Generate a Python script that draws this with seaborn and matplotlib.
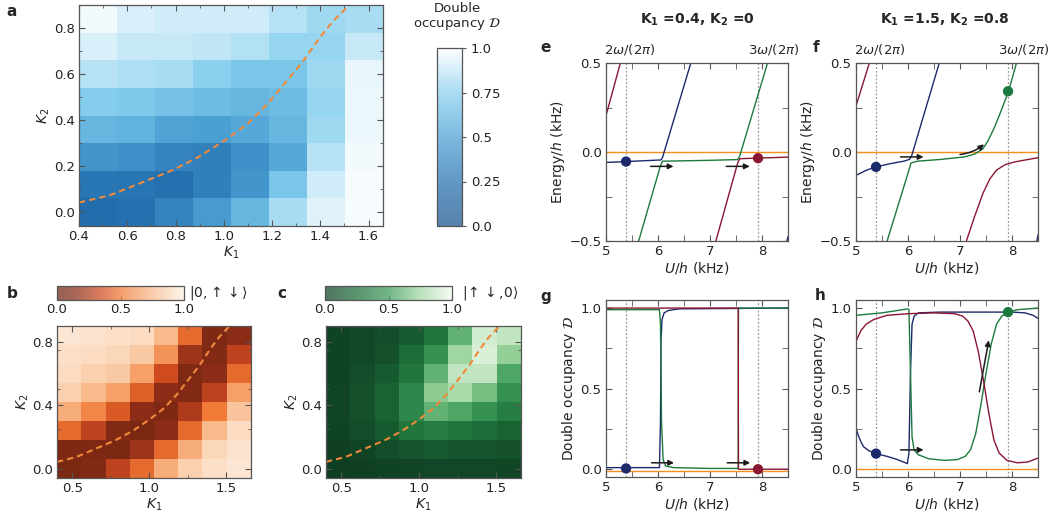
import numpy as np
import pandas as pd
import matplotlib
matplotlib.use("Agg")
import matplotlib.pyplot as plt
from matplotlib.colors import LinearSegmentedColormap
from matplotlib.ticker import MultipleLocator, FixedLocator
import seaborn as sns

sns.set_style("ticks")
plt.rcParams.update({
    "font.family": ["DejaVu Sans"], "font.size": 9,
    "mathtext.fontset": "dejavusans",
    "axes.edgecolor": "#555555", "axes.linewidth": 0.9,
    "xtick.color": "#555555", "ytick.color": "#555555",
    "xtick.labelcolor": "#222222", "ytick.labelcolor": "#222222",
    "xtick.labelsize": 9.5, "ytick.labelsize": 9.5,
    "axes.labelsize": 10, "axes.labelcolor": "#222222",
})

# ---------------------------------------------------------------- data
k2_rows = [0.84, 0.72, 0.60, 0.48, 0.36, 0.24, 0.12, 0.00]
k1_cols = [0.48, 0.64, 0.79, 0.95, 1.11, 1.26, 1.42, 1.58]
K1_LIM = (0.4, 1.66)
K2_LIM = (-0.06, 0.9)

dbl_occ = [
    [0.97, 0.92, 0.90, 0.90, 0.90, 0.85, 0.80, 0.82],
    [0.92, 0.88, 0.88, 0.87, 0.84, 0.78, 0.78, 0.88],
    [0.85, 0.83, 0.82, 0.76, 0.70, 0.70, 0.80, 0.95],
    [0.74, 0.72, 0.68, 0.65, 0.62, 0.65, 0.78, 0.96],
    [0.62, 0.60, 0.52, 0.50, 0.55, 0.62, 0.80, 0.96],
    [0.45, 0.42, 0.35, 0.33, 0.42, 0.55, 0.85, 0.97],
    [0.28, 0.27, 0.25, 0.33, 0.45, 0.70, 0.90, 0.98],
    [0.22, 0.25, 0.35, 0.48, 0.62, 0.82, 0.93, 0.98],
]
pop_0_ud = [
    [0.95, 0.93, 0.92, 0.90, 0.75, 0.45, 0.10, 0.15],
    [0.92, 0.90, 0.88, 0.82, 0.60, 0.20, 0.12, 0.30],
    [0.90, 0.85, 0.82, 0.65, 0.35, 0.10, 0.15, 0.45],
    [0.85, 0.75, 0.65, 0.42, 0.15, 0.12, 0.30, 0.65],
    [0.70, 0.55, 0.40, 0.15, 0.10, 0.25, 0.50, 0.80],
    [0.45, 0.30, 0.12, 0.08, 0.15, 0.45, 0.75, 0.90],
    [0.10, 0.10, 0.08, 0.20, 0.45, 0.70, 0.88, 0.93],
    [0.08, 0.12, 0.30, 0.45, 0.70, 0.85, 0.92, 0.95],
]
pop_ud_0 = [
    [0.02, 0.05, 0.08, 0.15, 0.30, 0.60, 0.90, 0.85],
    [0.02, 0.05, 0.10, 0.25, 0.45, 0.75, 0.92, 0.72],
    [0.02, 0.08, 0.15, 0.30, 0.60, 0.85, 0.85, 0.55],
    [0.03, 0.10, 0.20, 0.40, 0.70, 0.78, 0.65, 0.45],
    [0.03, 0.10, 0.20, 0.40, 0.60, 0.55, 0.45, 0.35],
    [0.02, 0.08, 0.15, 0.30, 0.35, 0.30, 0.25, 0.20],
    [0.01, 0.03, 0.08, 0.12, 0.15, 0.12, 0.12, 0.10],
    [0.00, 0.01, 0.02, 0.03, 0.05, 0.05, 0.05, 0.04],
]
# dashed boundary curve
bnd_k1 = [0.40, 0.527, 0.649, 0.785, 0.894, 1.003, 1.098, 1.18, 1.261, 1.329, 1.397, 1.452, 1.515]
bnd_k2 = [0.042, 0.073, 0.124, 0.181, 0.239, 0.311, 0.383, 0.469, 0.570, 0.656, 0.757, 0.829, 0.894]

U_2W, U_3W = 5.39, 7.92

# panel e: quasi-energies, K1=0.4, K2=0
e_orange_u, e_orange_E = [5.0, 8.5], [0.0, 0.0]
e_red1_u, e_red1_E = [5.0, 5.28], [0.20, 0.50]
e_blue_u = [5.0, 5.39, 6.06, 6.09, 6.63]
e_blue_E = [-0.057, -0.052, -0.043, -0.028, 0.50]
e_blue2_u, e_blue2_E = [8.47, 8.5], [-0.50, -0.47]
e_green_u = [5.63, 6.05, 6.09, 7.0, 7.53, 7.57, 8.10]
e_green_E = [-0.50, -0.075, -0.050, -0.045, -0.041, -0.020, 0.50]
e_red2_u = [7.11, 7.53, 7.57, 8.5]
e_red2_E = [-0.50, -0.060, -0.036, -0.027]

# panel f: quasi-energies, K1=1.5, K2=0.8
f_red1_u, f_red1_E = [5.0, 5.26], [0.255, 0.50]
f_blue_u = [5.0, 5.21, 5.39, 5.66, 5.92, 6.03, 6.07, 6.6]
f_blue_E = [-0.13, -0.10, -0.082, -0.064, -0.05, -0.04, -0.022, 0.50]
f_blue2_u, f_blue2_E = [8.47, 8.5], [-0.50, -0.46]
f_green_u = [5.6, 6.0, 6.06, 6.18, 6.63, 7.08, 7.28, 7.44, 7.54, 7.66, 7.79, 7.93, 8.08]
f_green_E = [-0.50, -0.12, -0.06, -0.05, -0.04, -0.026, -0.01, 0.02, 0.067, 0.14, 0.235, 0.343, 0.50]
f_red2_u = [7.12, 7.28, 7.44, 7.57, 7.70, 7.86, 8.05, 8.31, 8.5]
f_red2_E = [-0.50, -0.36, -0.23, -0.15, -0.10, -0.07, -0.054, -0.04, -0.03]

# panel g: double occupancy, K1=0.4, K2=0
g_orange_u, g_orange_D = [5.0, 8.5], [-0.01, -0.01]
g_blue_u = [5.0, 6.03, 6.05, 6.06, 6.08, 6.12, 6.2, 6.4, 8.5]
g_blue_D = [0.01, 0.01, 0.3, 0.8, 0.93, 0.97, 0.985, 0.995, 1.0]
g_green_u = [5.0, 6.03, 6.05, 6.07, 6.1, 6.15, 6.3, 7.0, 7.54, 7.545, 8.5]
g_green_D = [0.99, 0.99, 0.9, 0.3, 0.06, 0.02, 0.01, 0.005, 0.005, 1.0, 1.0]
g_red_u = [5.0, 7.54, 7.545, 8.5]
g_red_D = [1.0, 1.0, 0.0, 0.0]

# panel h: double occupancy, K1=1.5, K2=0.8
h_orange_u, h_orange_D = [5.0, 8.5], [0.0, 0.0]
h_blue_u = [5.0, 5.05, 5.1, 5.15, 5.25, 5.39, 5.6, 5.8, 5.99, 6.02, 6.05, 6.08, 6.12, 6.2,
            6.6, 7.5, 8.0, 8.25, 8.4, 8.5]
h_blue_D = [0.26, 0.21, 0.17, 0.14, 0.115, 0.097, 0.08, 0.06, 0.035, 0.1, 0.6, 0.9, 0.95, 0.97,
            0.975, 0.975, 0.975, 0.97, 0.955, 0.935]
h_green_u = [5.0, 5.5, 6.0, 6.02, 6.05, 6.08, 6.12, 6.2, 6.4, 6.7, 6.95, 7.1, 7.2, 7.3, 7.4,
             7.5, 7.6, 7.7, 7.8, 7.92, 8.1, 8.5]
h_green_D = [0.955, 0.97, 0.995, 0.99, 0.6, 0.2, 0.12, 0.09, 0.065, 0.055, 0.06, 0.08, 0.12,
             0.22, 0.4, 0.6, 0.78, 0.9, 0.95, 0.975, 0.99, 1.0]
h_red_u = [5.0, 5.1, 5.2, 5.35, 5.6, 6.0, 6.5, 6.9, 7.05, 7.15, 7.25, 7.35, 7.45, 7.55, 7.65,
           7.75, 7.9, 8.1, 8.3, 8.5]
h_red_D = [0.79, 0.86, 0.9, 0.93, 0.955, 0.965, 0.97, 0.965, 0.95, 0.92, 0.86, 0.73, 0.55,
           0.35, 0.18, 0.1, 0.055, 0.04, 0.045, 0.07]

NAVY, CRIMSON, GREEN, ORANGE = "#1c2a6c", "#8a1631", "#1b7a3d", "#f5901e"
DASH = "#f08a3a"

W, H = 1052, 526
fig = plt.figure(figsize=(W / 100, H / 100), dpi=100)


def rect(l, r, t, b):
    return [l / W, 1 - b / H, (r - l) / W, (b - t) / H]


def heat(ax_r, cax_r, vals, cmap, horiz, xt, yt, minor):
    ax = fig.add_axes(rect(*ax_r))
    cax = fig.add_axes(rect(*cax_r))
    df = pd.DataFrame(vals, index=k2_rows, columns=k1_cols)
    sns.heatmap(df, ax=ax, cmap=cmap, vmin=0, vmax=1, cbar_ax=cax,
                xticklabels=False, yticklabels=False,
                cbar_kws={"orientation": "horizontal" if horiz else "vertical"})
    ax.set_axis_off()
    cb = ax.collections[0].colorbar
    cb.solids.set_alpha(0.72)
    cb.outline.set_edgecolor("#555555")
    cb.outline.set_linewidth(0.9)
    ov = fig.add_axes(rect(*ax_r))
    ov.patch.set_visible(False)
    sns.lineplot(x=bnd_k1, y=bnd_k2, ax=ov, color=DASH, lw=1.5, linestyle=(0, (3, 2)),
                 estimator=None, sort=False)
    ov.set_xlim(K1_LIM)
    ov.set_ylim(K2_LIM)
    ov.set_xticks(xt)
    ov.set_yticks(yt)
    ov.xaxis.set_minor_locator(MultipleLocator(minor))
    ov.yaxis.set_minor_locator(MultipleLocator(minor))
    ov.set_xticklabels([f"{v:.1f}" for v in xt])
    ov.set_yticklabels([f"{v:.1f}" for v in yt])
    ov.tick_params(which="both", direction="in", top=True, right=True)
    ov.tick_params(which="major", length=4, pad=3)
    ov.tick_params(which="minor", length=2.5)
    ov.set_xlabel("$K_1$", labelpad=1)
    ov.set_ylabel("$K_2$", labelpad=1)
    return ov, cax


cmap_a = LinearSegmentedColormap.from_list(
    "a", [(0, "#17518c"), (0.25, "#2571b0"), (0.5, "#4a9fd3"), (0.75, "#86cfee"), (1, "#ffffff")])
cmap_b = LinearSegmentedColormap.from_list(
    "b", [(0, "#6a2410"), (0.15, "#8a2c16"), (0.35, "#cf4a1f"), (0.5, "#f07a35"),
          (0.75, "#f8b98a"), (1, "#fdf1e4")])
cmap_c = LinearSegmentedColormap.from_list(
    "c", [(0, "#0f3f22"), (0.25, "#1b6c37"), (0.5, "#3a9a58"), (0.75, "#9fd6a0"), (1, "#f3faef")])

# a
ax_a, cax_a = heat((79, 383, 5, 226), (437, 462, 48, 226), dbl_occ, cmap_a, False,
                   [0.4, 0.6, 0.8, 1.0, 1.2, 1.4, 1.6], [0.0, 0.2, 0.4, 0.6, 0.8], 0.1)
cax_a.yaxis.set_ticks_position("right")
cax_a.set_yticks([0, 0.25, 0.5, 0.75, 1.0])
cax_a.set_yticklabels(["0.0", "0.25", "0.5", "0.75", "1.0"])
cax_a.tick_params(direction="out", length=3)
fig.text(457 / W, 1 - 17 / H, "Double\noccupancy $\\mathcal{D}$", ha="center", va="center",
         fontsize=9.5, linespacing=1.1)

# b
ax_b, cax_b = heat((57, 251, 326, 478), (57, 184, 286, 300), pop_0_ud, cmap_b, True,
                   [0.5, 1.0, 1.5], [0.0, 0.4, 0.8], 0.25)
# c
ax_c, cax_c = heat((326, 521, 326, 478), (325, 452, 286, 300), pop_ud_0, cmap_c, True,
                   [0.5, 1.0, 1.5], [0.0, 0.4, 0.8], 0.25)
for cax in (cax_b, cax_c):
    cax.set_xticks([0, 0.5, 1.0])
    cax.set_xticklabels(["0.0", "0.5", "1.0"])
    cax.tick_params(direction="in", length=3, pad=2)
fig.text(218 / W, 1 - 293 / H, r"$|0,\!\uparrow\downarrow\rangle$", ha="center", va="center", fontsize=10)
fig.text(490 / W, 1 - 293 / H, r"$|\!\uparrow\downarrow,\!0\rangle$", ha="center", va="center", fontsize=10)


# ---------------------------------------------------------------- e-h
def line_ax(l, t, b, ylim, yticks, ylabel, curves, dots, arrows):
    ax = fig.add_axes(rect(l, l + 182.6, t, b))
    for u, v, c in curves:
        sns.lineplot(x=u, y=v, ax=ax, color=c, lw=1.0, estimator=None, sort=False)
    for x0 in (U_2W, U_3W):
        ax.axvline(x0, color="#9a9a9a", ls=(0, (1.5, 1.5)), lw=0.9, zorder=0)
    du, dv, dc = dots
    sns.scatterplot(x=du, y=dv, ax=ax, hue=dc, palette={c: c for c in dc}, s=55,
                    edgecolor="none", legend=False, zorder=5)
    for (x0, y0), (x1, y1), rad in arrows:
        ax.annotate("", xy=(x1, y1), xytext=(x0, y0),
                    arrowprops=dict(arrowstyle="-|>", color="#1a1a1a", lw=1.1,
                                    mutation_scale=8, shrinkA=0, shrinkB=0,
                                    connectionstyle=f"arc3,rad={rad}"))
    ax.set_xlim(5, 8.5)
    ax.set_ylim(*ylim)
    ax.set_xticks([5, 6, 7, 8])
    ax.set_yticks(yticks)
    ax.set_yticklabels([f"{v:.1f}" .replace("-", "\u2212") for v in yticks])
    ax.xaxis.set_minor_locator(MultipleLocator(0.5))
    ax.yaxis.set_minor_locator(MultipleLocator(0.25))
    ax.tick_params(which="both", direction="in", top=True, right=True)
    ax.tick_params(which="major", length=4, pad=3)
    ax.tick_params(which="minor", length=4)
    ax.set_xlabel("$U/h$ (kHz)", labelpad=1)
    ax.set_ylabel(ylabel, labelpad=2)
    return ax


ax_e = line_ax(605.7, 63.3, 241.3, (-0.5, 0.5), [-0.5, 0.0, 0.5], "Energy/$h$ (kHz)",
               [(e_orange_u, e_orange_E, ORANGE), (e_red1_u, e_red1_E, CRIMSON),
                (e_blue_u, e_blue_E, NAVY), (e_blue2_u, e_blue2_E, NAVY),
                (e_green_u, e_green_E, GREEN), (e_red2_u, e_red2_E, CRIMSON)],
               ([U_2W, U_3W], [-0.052, -0.033], [NAVY, CRIMSON]),
               [((5.86, -0.079), (6.3, -0.079), 0), ((7.31, -0.079), (7.76, -0.079), 0)])
ax_f = line_ax(855.7, 63.3, 241.3, (-0.5, 0.5), [-0.5, 0.0, 0.5], "Energy/$h$ (kHz)",
               [(e_orange_u, e_orange_E, ORANGE), (f_red1_u, f_red1_E, CRIMSON),
                (f_blue_u, f_blue_E, NAVY), (f_blue2_u, f_blue2_E, NAVY),
                (f_green_u, f_green_E, GREEN), (f_red2_u, f_red2_E, CRIMSON)],
               ([U_2W, U_3W], [-0.082, 0.343], [NAVY, GREEN]),
               [((5.86, -0.026), (6.3, -0.026), 0), ((7.0, -0.012), (7.46, 0.045), 0.15)])
ax_g = line_ax(605.7, 300, 477.3, (-0.05, 1.05), [0.0, 0.5, 1.0], "Double occupancy $\\mathcal{D}$",
               [(g_orange_u, g_orange_D, ORANGE), (g_blue_u, g_blue_D, NAVY),
                (g_green_u, g_green_D, GREEN), (g_red_u, g_red_D, CRIMSON)],
               ([U_2W, U_3W], [0.005, 0.0], [NAVY, CRIMSON]),
               [((5.88, 0.04), (6.31, 0.04), 0), ((7.33, 0.04), (7.77, 0.04), 0)])
ax_h = line_ax(855.7, 300, 477.3, (-0.05, 1.05), [0.0, 0.5, 1.0], "Double occupancy $\\mathcal{D}$",
               [(h_orange_u, h_orange_D, ORANGE), (h_blue_u, h_blue_D, NAVY),
                (h_green_u, h_green_D, GREEN), (h_red_u, h_red_D, CRIMSON)],
               ([U_2W, U_3W], [0.097, 0.975], [NAVY, GREEN]),
               [((5.86, 0.12), (6.3, 0.12), 0), ((7.37, 0.48), (7.55, 0.80), 0)])

for ax in (ax_e, ax_f):
    tr = ax.get_xaxis_transform()
    ax.text(5.46, 1.075, r"2$\omega$/(2$\pi$)", transform=tr, ha="center", va="center", fontsize=9.5)
    ax.text(8.22, 1.075, r"3$\omega$/(2$\pi$)", transform=tr, ha="center", va="center", fontsize=9.5)

fig.text(697 / W, 1 - 20 / H, r"K$_\mathbf{1}$ =0.4, K$_\mathbf{2}$ =0", ha="center", va="center",
         fontsize=10, fontweight="bold")
fig.text(945 / W, 1 - 20 / H, r"K$_\mathbf{1}$ =1.5, K$_\mathbf{2}$ =0.8", ha="center", va="center",
         fontsize=10, fontweight="bold")

for lab, x, y in [("a", 12, 12), ("b", 12, 294), ("c", 282, 294), ("e", 546, 47),
                  ("f", 816, 47), ("g", 546, 297), ("h", 820, 296)]:
    fig.text(x / W, 1 - y / H, lab, ha="center", va="center", fontsize=11, fontweight="bold")

fig.savefig("out.png", dpi=100)
